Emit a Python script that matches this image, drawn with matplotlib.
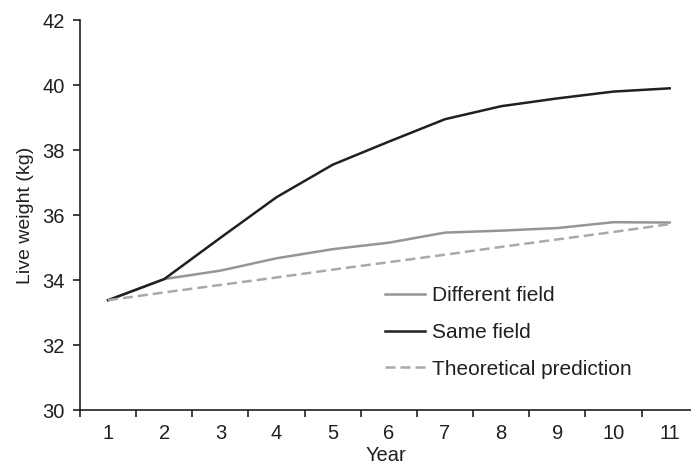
import numpy as np
import matplotlib
matplotlib.use("Agg")
import matplotlib.pyplot as plt

plt.rcParams['font.family'] = ['Liberation Sans', 'DejaVu Sans']

# data
years = [1, 2, 3, 4, 5, 6, 7, 8, 9, 10, 11]
different_field = [33.38, 34.03, 34.29, 34.67, 34.95, 35.15, 35.46, 35.52, 35.60, 35.78, 35.77]
same_field = [33.38, 34.03, 35.30, 36.55, 37.55, 38.26, 38.95, 39.35, 39.59, 39.80, 39.90]
theoretical = [33.38, 33.62, 33.85, 34.08, 34.32, 34.55, 34.78, 35.02, 35.25, 35.48, 35.72]

txt = '#231f20'
fs = 14.5

fig = plt.figure(figsize=(6.91, 4.67), dpi=100)
ax = fig.add_axes([0.1158, 0.122, 0.8842, 0.835])

ax.plot(years, different_field, color='#939598', lw=1.8, label='Different field')
ax.plot(years, same_field, color=txt, lw=1.8, label='Same field')
ax.plot(years, theoretical, color='#a7a9ac', lw=1.8, ls=(0, (4.0, 2.0)), label='Theoretical prediction')

ax.set_xlim(0.5, 11.38)
ax.set_ylim(30, 42)
ax.set_yticks(np.arange(30, 43, 2))
# ticks sit between categories, labels in the middle
ax.set_xticks(np.arange(0.5, 11.0, 1.0))
ax.set_xticklabels([])
ax.set_xticks(years, minor=True)
ax.set_xticklabels([str(y) for y in years], minor=True)
ax.tick_params(axis='x', which='minor', length=0, labelsize=fs, pad=10, colors=txt)
ax.tick_params(axis='x', which='major', length=5, width=1.2, color=txt)
ax.tick_params(axis='y', length=5, width=1.2, labelsize=fs, pad=6, color=txt, labelcolor=txt)

for s in ['top', 'right']:
    ax.spines[s].set_visible(False)
for s in ['left', 'bottom']:
    ax.spines[s].set_linewidth(1.2)
    ax.spines[s].set_color(txt)

ax.set_xlabel('Year', fontsize=fs, color=txt, labelpad=2)
ax.set_ylabel('Live weight (kg)', fontsize=14, color=txt, labelpad=6)

ax.legend(loc='center left', bbox_to_anchor=(0.468, 0.199), frameon=False, fontsize=15,
          handlelength=1.95, handletextpad=0.3, labelspacing=0.85, labelcolor=txt)

fig.savefig('out.png', dpi=100)
